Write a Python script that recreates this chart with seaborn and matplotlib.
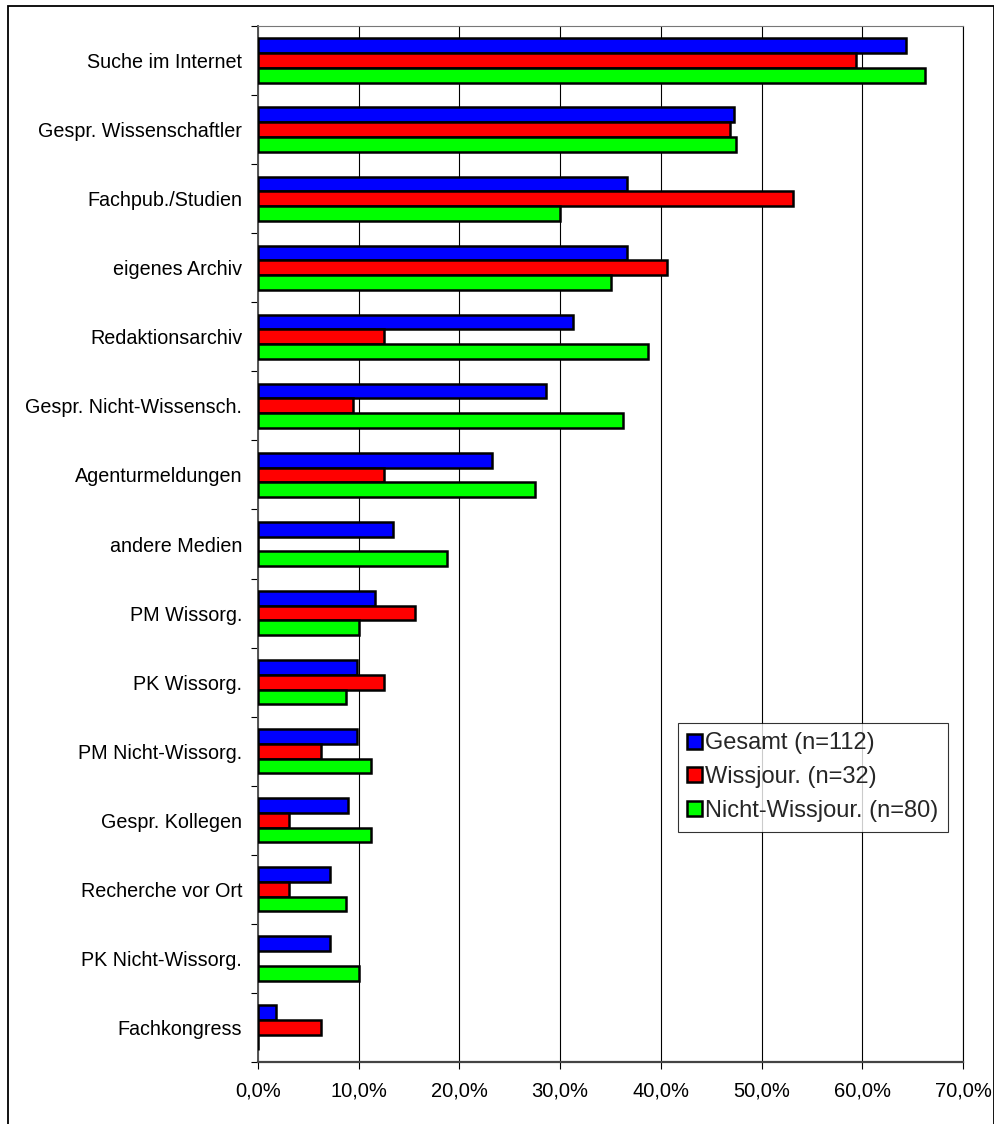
import matplotlib
matplotlib.use("Agg")
import matplotlib.pyplot as plt
import matplotlib.patches as mpatches
from matplotlib.ticker import FixedLocator, FuncFormatter
import seaborn as sns
import pandas as pd

categories = ["Suche im Internet", "Gespr. Wissenschaftler", "Fachpub./Studien",
              "eigenes Archiv", "Redaktionsarchiv", "Gespr. Nicht-Wissensch.",
              "Agenturmeldungen", "andere Medien", "PM Wissorg.", "PK Wissorg.",
              "PM Nicht-Wissorg.", "Gespr. Kollegen", "Recherche vor Ort",
              "PK Nicht-Wissorg.", "Fachkongress"]
series = ["Gesamt (n=112)", "Wissjour. (n=32)", "Nicht-Wissjour. (n=80)"]
gesamt = [64.3, 47.3, 36.6, 36.6, 31.3, 28.6, 23.2, 13.4, 11.6, 9.8, 9.8, 8.9, 7.1, 7.1, 1.8]
wissjour = [59.4, 46.9, 53.1, 40.6, 12.5, 9.4, 12.5, 0.0, 15.6, 12.5, 6.25, 3.1, 3.1, 0.0, 6.25]
nicht_wissjour = [66.25, 47.5, 30.0, 35.0, 38.75, 36.25, 27.5, 18.75, 10.0, 8.75, 11.25, 11.25, 8.75, 10.0, 0.0]
colors = ["#0000FF", "#FF0000", "#00FF00"]
xticks = [0, 10, 20, 30, 40, 50, 60, 70]

rows = []
for s, vals in zip(series, [gesamt, wissjour, nicht_wissjour]):
    for c, v in zip(categories, vals):
        rows.append({"Kategorie": c, "Serie": s, "Wert": v})
df = pd.DataFrame(rows)

sns.set_theme(style="white")
plt.rcParams["font.family"] = ["Liberation Sans", "DejaVu Sans"]

W, H = 995, 1124
L, R, T, B = 258, 963, 26, 1062
fig = plt.figure(figsize=(W / 100, H / 100), dpi=100)
ax = fig.add_axes([L / W, 1 - B / H, (R - L) / W, (B - T) / H])

sns.barplot(data=df, y="Kategorie", x="Wert", hue="Serie", order=categories,
            hue_order=series, palette=colors, orient="h", width=0.64,
            edgecolor="black", linewidth=1.8, ax=ax, zorder=3, saturation=1)

ax.set_xlim(0, 70)
ax.set_ylim(len(categories) - 0.5, -0.5)
ax.set_xticks(xticks)
ax.xaxis.set_major_formatter(FuncFormatter(lambda v, p: f"{v:.1f}%".replace(".", ",")))
ax.grid(axis="x", color="black", linewidth=0.8, zorder=0)
ax.grid(axis="y", visible=False)
ax.set_xlabel("")
ax.set_ylabel("")
ax.tick_params(axis="x", labelsize=14.5, length=5, width=0.8, color="black", direction="out",
               bottom=True, pad=9, labelcolor="black")
ax.tick_params(axis="y", which="major", labelsize=14.2, length=0, pad=11.5, labelcolor="black")
ax.yaxis.set_minor_locator(FixedLocator([i + 0.5 for i in range(-1, len(categories))]))
ax.tick_params(axis="y", which="minor", length=5, width=0.8, color="black", left=True)
for sp in ax.spines.values():
    sp.set_color("black")
    sp.set_linewidth(0.8)
ax.spines["left"].set_color("#555555")
ax.spines["left"].set_linewidth(1.4)
ax.spines["bottom"].set_color("#444444")
ax.spines["bottom"].set_linewidth(1.6)
ax.spines["top"].set_color("#777777")

lx0, ly0 = 678, 723
leg = ax.legend(loc="upper left",
                bbox_to_anchor=((lx0 - L) / (R - L), 1 - (ly0 - T) / (B - T)),
                fontsize=17, frameon=True, fancybox=False, edgecolor="black",
                handlelength=0.6, handleheight=0.6, handletextpad=0.15,
                labelspacing=0.5, borderpad=0.4, borderaxespad=0)
leg.get_frame().set_linewidth(0.8)
for h in leg.legend_handles:
    h.set_edgecolor("black")
    h.set_linewidth(1.8)

border = mpatches.Rectangle((8 / W, -0.01), (994 - 8) / W, 1.01 - 6 / H, transform=fig.transFigure,
                            fill=False, edgecolor="black", linewidth=1.3)
fig.add_artist(border)

fig.savefig("out.png", dpi=100, facecolor="white")
